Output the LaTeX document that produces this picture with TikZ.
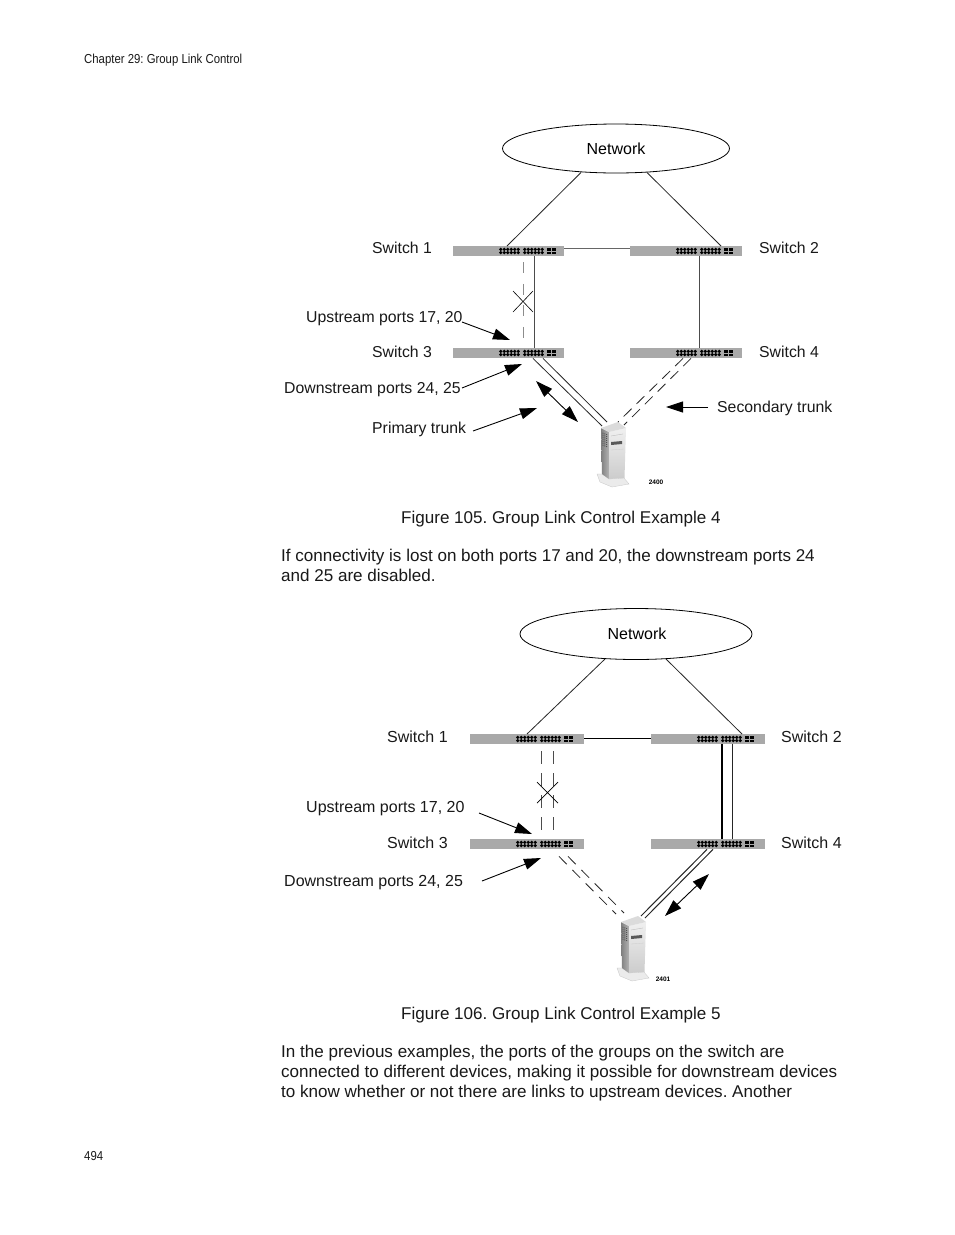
\documentclass[tikz,border=0pt]{standalone}
\usepackage{fontspec}
\setmainfont{Liberation Sans}
\usetikzlibrary{arrows.meta,shapes.geometric}
\newfontfamily\narrowfont[FakeStretch=0.875]{Liberation Sans}
\definecolor{swgray}{HTML}{A9A9A9}
\frenchspacing
\tikzset{
  swbox/.style={fill=swgray,draw=none,inner sep=0pt,minimum width=#1,minimum height=10pt,anchor=north west},
  netell/.style={ellipse,draw=black,line width=.8pt,fill=white,inner sep=0pt,font=\fontsize{16}{18}\selectfont},
  lab/.style={anchor=base west,inner sep=0pt,font=\fontsize{16}{18}\selectfont,text=black!90},
  laba/.style={anchor=base west,inner sep=0pt,font=\fontsize{15.8}{18}\selectfont,text=black!90},
  bodyline/.style={anchor=base west,inner sep=0pt,font=\fontsize{17.05}{20}\selectfont,text=black!90},
  runner/.style={anchor=base west,inner sep=0pt,font=\narrowfont\fontsize{13}{14}\selectfont,text=black!90},
  tag/.style={anchor=center,inner sep=0pt,font=\bfseries\fontsize{6.5}{8}\selectfont},
  link/.style={line width=.8pt,draw=black!85},
  dashlink/.style={line width=.9pt,draw=black!70,dash pattern=on 13pt off 9pt},
  bigarrow/.style={line width=.9pt,draw=black,-{Triangle[length=17pt,width=11pt]}},
  bothways/.style={line width=.9pt,draw=black,{Triangle[length=17pt,width=11pt]}-{Triangle[length=17pt,width=11pt]}},
  srvbox/.style={inner sep=0pt,minimum width=33pt,minimum height=66pt,draw=none},
}
% switch: name, left x, top y, width
\newcommand{\swunit}[4]{%
  \node[swbox=#4pt] (#1) at (#2,#3) {};
  \foreach \g in {46,70}{\foreach \i in {0,...,5}{\foreach \r in {3.4,6.6}{
     \fill[black] ({#2+\g+1.7+\i*3.5},{#3+\r}) circle (1.75pt);}}}
  \foreach \g in {94,99}{\foreach \r in {2.0,5.6}{
     \fill[black] ({#2+\g},{#3+\r}) rectangle ++(3.6,2.6);}}
}
% server: name, left x, top y
\newcommand{\srvunit}[3]{%
  \node[srvbox,anchor=north west] (#1) at (#2,#3) {};
  \begin{scope}[shift={(#2,#3)}]
    \fill[black!8,draw=black!22,line width=.3pt] (0,52)--(5,52)--(12,57)--(27,56)--(32,62)--(15,65)--(3,60)--cycle;
    \shade[left color=black!50,right color=black!30] (4,6)--(12,10)--(12,57)--(5,52)--cycle;
    \foreach \y in {11,13,...,23}{\draw[black!75,line width=.7pt,dash pattern=on 1pt off 1pt] (5.5,\y)--(10.5,{\y+2});}
    \shade[top color=black!6,bottom color=black!20] (12,10)--(29,6)--(27.5,56)--(12,57)--cycle;
    \fill[black!14] (4,6)--(21,0)--(29,6)--(12,10)--cycle;
    \fill[black!65] (14,20)--(25,19)--(25,22)--(14,23)--cycle;
    \draw[black!30,line width=.3pt] (14,14)--(26,12);
    \draw[black!20,line width=.3pt] (14,28)--(27,27);
  \end{scope}
}
\begin{document}
\begin{tikzpicture}[x=1pt,y=-1pt]
\useasboundingbox (0,0) rectangle (954,1235);
\fill[white] (0,0) rectangle (954,1235);

\node[runner] (hdr) at (84,63) {Chapter 29: Group Link Control};
\node[runner] (pgno) at (84,1160) {494};

% ---------- Figure 105 ----------
\node[netell,minimum width=227pt,minimum height=49pt] (neta) at (616,148.5) {Network};
\swunit{swa1}{453}{246}{111}
\swunit{swa2}{630}{246}{112}
\swunit{swa3}{453}{348}{111}
\swunit{swa4}{630}{348}{112}
\srvunit{srva}{597}{422}

\draw[link] ([shift={(-35pt,-24pt)}]neta.center) -- ([xshift=54pt]swa1.north west);
\draw[link] ([shift={(31pt,-24pt)}]neta.center) -- ([xshift=91pt]swa2.north west);
\draw[link,draw=black!60] ([shift={(0pt,-2pt)}]swa1.north east) -- ([shift={(0pt,-2pt)}]swa2.north west);
\draw[link,draw=black!70] ([xshift=81pt]swa1.south west) -- ([xshift=81pt]swa3.north west);
\draw[link,draw=black!70] ([xshift=69pt]swa2.south west) -- ([xshift=69pt]swa4.north west);
\draw[line width=1pt,draw=black!45,dash pattern=on 11pt off 10.5pt]
  ([shift={(70pt,-6pt)}]swa1.south west) -- ([shift={(70pt,10pt)}]swa3.north west);
\coordinate (xa1) at (513,291); \coordinate (xa2) at (533,312);
\coordinate (xa3) at (533,291); \coordinate (xa4) at (513,312);
\draw[line width=.6pt] (xa1) -- (xa2) (xa3) -- (xa4);

\draw[link] ([xshift=80pt]swa3.south west) -- ([shift={(5pt,-4pt)}]srva.north west);
\draw[link] ([xshift=90pt]swa3.south west) -- ([shift={(10pt,0pt)}]srva.north west);
\draw[link,dash pattern=on 11pt off 7pt] ([xshift=61pt]swa4.south west) -- ([shift={(27pt,-3pt)}]srva.north west);
\draw[link,dash pattern=on 11pt off 7pt] ([xshift=53pt]swa4.south west) -- ([shift={(21pt,0pt)}]srva.north west);

\node[laba] (la1) at (372,253) {Switch 1};
\node[laba] (la2) at (759,253) {Switch 2};
\node[laba] (la3) at (372,357) {Switch 3};
\node[laba] (la4) at (759,357) {Switch 4};
\node[laba] (laup) at (306,322) {Upstream ports 17, 20};
\node[laba] (ladn) at (284,393) {Downstream ports 24, 25};
\node[laba] (lapr) at (372,433) {Primary trunk};
\node[laba] (lasc) at (717,412) {Secondary trunk};
\node[tag] (taga) at (656,482) {2400};

\coordinate (upa) at (510,340);
\coordinate (dna) at (522,364);
\coordinate (pra) at (537,408);
\coordinate (sca) at (666,407);
\coordinate (bta) at (536,381);
\coordinate (btb) at (578,422);
\draw[bigarrow] (462,322) -- (upa);
\draw[bigarrow] (462,388) -- (dna);
\draw[bigarrow] (473,431) -- (pra);
\draw[bigarrow] (708,407) -- (sca);
\draw[bothways] (bta) -- (btb);

\node[bodyline] (cap1) at (401,523) {Figure 105. Group Link Control Example 4};
\node[bodyline] (pa1) at (281,561) {If connectivity is lost on both ports 17 and 20, the downstream ports 24};
\node[bodyline] (pa2) at (281,581) {and 25 are disabled.};

% ---------- Figure 106 ----------
\node[netell,minimum width=232pt,minimum height=51pt] (netb) at (636,634) {\hspace{2pt}Network};
\swunit{swb1}{470}{734}{114}
\swunit{swb2}{651}{734}{114}
\swunit{swb3}{470}{839}{114}
\swunit{swb4}{651}{839}{114}
\srvunit{srvb}{617}{916}

\draw[link] ([shift={(-31pt,-25pt)}]netb.center) -- ([xshift=57pt]swb1.north west);
\draw[link] ([shift={(30pt,-25pt)}]netb.center) -- ([xshift=91pt]swb2.north west);
\draw[link,draw=black,line width=1pt] ([shift={(0pt,-4pt)}]swb1.north east) -- ([shift={(0pt,-4pt)}]swb2.north west);
\draw[link,draw=black,line width=1.2pt] ([xshift=71pt]swb2.south west) -- ([xshift=71pt]swb4.north west);
\draw[link] ([xshift=81pt]swb2.south west) -- ([xshift=81pt]swb4.north west);
\draw[dashlink] ([shift={(71pt,-7pt)}]swb1.south west) -- ([xshift=71pt,yshift=8pt]swb3.north west);
\draw[dashlink] ([shift={(83pt,-7pt)}]swb1.south west) -- ([xshift=83pt,yshift=8pt]swb3.north west);
\coordinate (xb1) at (537,782); \coordinate (xb2) at (558,803);
\coordinate (xb3) at (558,782); \coordinate (xb4) at (537,803);
\draw[line width=.7pt] (xb1) -- (xb2) (xb3) -- (xb4);

\draw[link,dash pattern=on 11pt off 8pt] ([shift={(89pt,-7pt)}]swb3.south west) -- ([shift={(-1pt,2pt)}]srvb.north west);
\draw[link,dash pattern=on 11pt off 8pt] ([shift={(98pt,-7pt)}]swb3.south west) -- ([shift={(7pt,3pt)}]srvb.north west);
\draw[link,line width=1pt] ([xshift=56pt]swb4.south west) -- ([shift={(24pt,0pt)}]srvb.north west);
\draw[link,line width=1pt] ([xshift=62pt]swb4.south west) -- ([shift={(28pt,-2pt)}]srvb.north west);

\node[lab] (lb1) at (387,742) {Switch 1};
\node[lab] (lb2) at (781,742) {Switch 2};
\node[lab] (lb3) at (387,848) {Switch 3};
\node[lab] (lb4) at (781,848) {Switch 4};
\node[lab] (lbup) at (306,812) {Upstream ports 17, 20};
\node[lab] (lbdn) at (284,886) {Downstream ports 24, 25};
\node[tag] (tagb) at (663,979) {2401};

\coordinate (upb) at (532,834);
\coordinate (dnb) at (541,858);
\coordinate (btc) at (709,874);
\coordinate (btd) at (665,916);
\draw[bigarrow] (479,813) -- (upb);
\draw[bigarrow] (482,881) -- (dnb);
\draw[bothways] (btc) -- (btd);

\node[bodyline] (cap2) at (401,1019) {Figure 106. Group Link Control Example 5};
\node[bodyline] (pb1) at (281,1057) {In the previous examples, the ports of the groups on the switch are};
\node[bodyline] (pb2) at (281,1077) {connected to different devices, making it possible for downstream devices};
\node[bodyline] (pb3) at (281,1097) {to know whether or not there are links to upstream devices. Another};
\end{tikzpicture}
\end{document}
